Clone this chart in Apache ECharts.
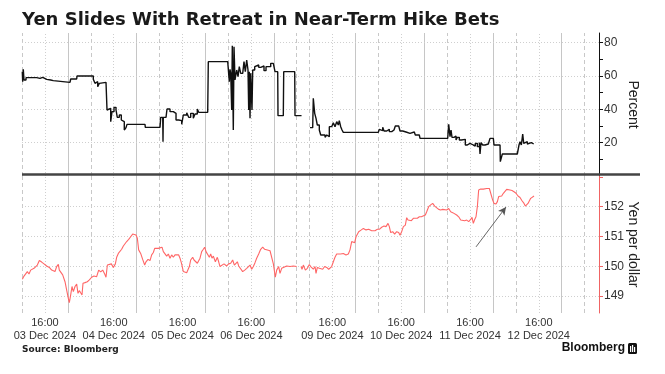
<!DOCTYPE html>
<html><head><meta charset="utf-8">
<script src="https://cdn.jsdelivr.net/npm/echarts@6/dist/echarts.min.js"></script>
<style>html,body{margin:0;padding:0;background:#fff}#c{width:665px;height:374px}</style>
</head><body><div id="c"></div>
<script>
// time axis: hours since 03 Dec 2024 00:00, weekend compressed
const pctTime = [8.10,8.24,8.45,8.70,9.40,11.38,13.13,14.28,15.22,16.62,18.01,18.92,19.27,24.74,24.99,27.08,27.18,31.96,32.87,33.46,34.06,34.40,34.96,35.21,37.30,37.65,38.24,38.94,39.39,40.09,40.79,41.24,41.94,42.64,43.33,43.68,44.28,44.62,50.90,51.01,56.13,56.38,57.08,57.18,57.28,58.23,58.58,59.62,60.77,61.72,62.66,63.70,64.26,65.45,66.14,66.84,67.75,68.34,69.14,69.63,72.77,72.98,79.75,80.31,80.55,80.80,81.14,81.35,81.70,81.95,82.29,82.89,83.34,83.79,84.28,84.98,85.43,85.89,86.37,86.83,87.07,87.28,87.53,87.77,88.22,88.47,89.17,89.86,90.56,91.26,91.71,92.41,93.11,94.05,94.75,95.65,96.25,97.19,97.29,99.14,99.28,103.12,103.22,103.81,105.5,108.45,109.39,109.60,110.09,110.55,111.00,111.70,112.19,113.69,114.28,114.84,115.19,116.02,116.58,117.17,117.77,118.33,118.67,119.16,119.62,120.07,132.28,132.63,133.11,133.81,134.27,135.21,136.12,136.95,137.75,138.21,139.39,139.85,140.79,141.94,142.39,143.33,144.83,145.18,146.57,146.82,156.48,156.83,157.29,157.64,157.98,158.68,159.38,159.83,160.53,161.23,161.92,162.62,163.32,164.26,165.41,166.11,166.81,167.51,167.75,168.10,168.69,169.49,170.09,170.65,171.24,172.39,172.63,174.73,174.83,175.42,175.53,180.76,181.01,181.35,181.70,182.16,182.64,182.99,183.55,184.25,184.94,185.64,186.48];
const pctValue = [62.6,56.6,64.0,57.6,59.0,59.0,58.6,59.2,58.0,57.6,57.2,57.6,56.2,56.2,58.2,58.2,60.0,60.0,58.0,55.6,56.6,53.6,55.6,56.2,56.0,39.6,40.6,32.6,38.6,41.2,39.6,35.2,36.6,33.6,32.6,27.6,29.0,31.0,31.0,29.2,29.2,35.2,35.2,20.6,35.2,35.2,40.2,38.6,37.6,33.6,33.2,31.0,36.6,38.0,35.2,37.6,34.6,37.2,40.2,38.2,38.2,68.6,68.6,56.6,64.0,61.6,39.6,78.2,27.6,77.6,57.6,63.6,59.6,65.6,61.6,62.6,68.6,62.6,69.6,63.6,39.6,62.6,34.6,61.6,39.6,63.6,65.6,66.6,65.2,64.6,66.0,63.2,65.6,65.6,67.6,67.2,62.6,62.6,36.2,36.2,62.6,62.6,36.2,36.2,null,29.0,29.6,46.6,37.6,34.6,30.6,27.6,24.6,23.2,24.6,23.6,29.6,28.6,32.0,29.6,32.6,30.6,33.2,29.6,27.6,26.2,26.2,28.0,27.2,29.2,27.0,28.0,26.6,27.6,26.6,30.0,30.0,27.0,26.4,26.6,25.6,26.4,26.0,24.6,24.6,22.6,22.6,31.0,23.6,27.6,23.2,24.0,21.6,23.2,21.6,20.6,22.0,18.6,19.6,18.6,18.0,19.6,17.6,20.0,13.2,20.0,18.6,19.2,19.2,18.6,22.6,22.6,18.6,18.6,8.6,8.6,13.2,13.2,12.0,18.6,20.6,18.6,25.2,19.6,20.6,19.2,20.0,19.2,19.2];

const fxTime = [8.12,8.70,9.28,9.86,10.44,11.02,11.60,12.19,12.77,13.35,14.05,14.86,15.67,16.60,17.53,18.35,18.93,19.51,20.09,20.67,21.02,21.60,22.19,23.00,23.58,24.16,24.51,24.98,25.44,25.91,26.49,27.07,27.53,28.00,28.46,28.93,29.28,29.98,30.79,31.49,32.30,33.11,34.04,34.74,35.44,36.14,36.84,37.30,37.77,38.46,39.16,39.86,40.56,41.02,41.60,42.18,42.76,43.35,43.93,44.51,45.21,45.90,46.60,47.18,47.76,48.23,48.69,49.39,50.09,50.79,51.25,51.95,52.65,53.23,53.81,54.28,54.97,55.55,56.14,56.83,57.30,57.88,58.46,59.04,59.62,60.20,60.79,61.37,61.95,62.65,63.11,63.69,64.27,64.86,65.44,66.02,66.37,66.83,67.53,68.00,68.69,69.16,69.74,70.09,70.67,71.25,71.72,72.18,72.65,73.34,73.81,74.27,74.74,75.44,76.13,76.60,77.06,77.64,78.46,79.39,80.09,80.79,81.48,82.07,82.65,83.11,83.58,84.27,84.97,85.67,86.37,87.06,87.53,88.11,88.69,89.27,89.85,90.55,91.25,91.95,92.65,93.34,94.51,95.20,95.67,96.36,96.83,97.53,97.99,98.57,99.16,100.32,101.48,102.64,103.81,104.5,105.32,105.67,106.13,106.83,107.53,108.22,108.69,109.16,109.62,110.20,110.55,111.01,111.71,112.18,112.88,113.57,114.27,114.97,115.43,116.01,116.59,117.17,117.75,118.33,119.15,120.08,121.01,121.82,122.40,122.99,123.57,124.03,124.50,124.96,125.43,125.89,126.36,127.06,127.99,128.92,129.96,131.12,131.94,132.64,133.45,134.26,134.96,135.66,136.12,136.59,137.29,137.98,138.68,139.38,139.84,140.43,141.01,141.71,142.17,142.64,143.10,143.80,144.50,145.19,145.89,146.59,147.29,147.98,148.68,149.15,149.84,150.54,151.24,151.94,152.63,153.33,154.03,154.73,155.42,156.12,156.82,157.52,158.22,158.91,159.61,160.31,161.01,161.70,162.40,163.10,163.80,164.49,164.96,165.42,165.89,166.35,166.82,167.28,167.98,168.91,170.08,171.01,171.70,172.17,172.63,173.33,173.80,174.26,174.73,175.31,175.89,176.47,177.05,177.63,178.21,178.91,179.61,180.31,181.00,181.70,182.40,183.10,183.56,184.03,184.49,184.96,185.42,185.89,186.59];
const fxValue = [149.56,149.67,149.63,149.82,149.74,149.87,149.81,149.93,149.90,150.04,150.19,150.14,150.08,150.01,149.96,149.87,149.93,149.82,149.99,150.06,149.87,149.85,149.71,149.48,149.20,148.92,148.78,149.04,149.32,149.15,149.32,149.40,149.09,149.18,149.11,149.04,149.43,149.45,149.48,149.54,149.63,149.67,149.65,149.87,149.81,149.87,149.74,149.63,150.04,149.99,150.08,149.96,150.08,150.30,150.43,150.38,150.57,150.68,150.64,150.83,150.90,150.99,151.08,151.13,151.05,150.94,150.55,150.43,150.23,150.04,150.15,150.23,150.19,150.38,150.46,150.60,150.55,150.60,150.57,150.64,150.49,150.55,150.34,150.41,150.27,150.38,150.30,150.38,150.34,150.38,150.27,150.08,149.82,149.87,149.78,149.76,149.99,150.21,150.30,150.21,150.23,150.10,150.15,150.27,150.49,150.57,150.64,150.49,150.46,150.30,150.41,150.27,150.34,150.15,150.30,150.15,149.99,150.04,150.08,150.01,150.08,150.10,150.21,150.04,149.99,150.15,150.01,149.99,149.82,149.87,149.93,149.96,150.04,149.90,149.99,150.12,150.27,150.41,150.57,150.64,150.57,150.52,150.52,150.49,150.08,149.63,149.87,149.99,149.76,149.93,149.99,150.01,149.99,150.01,149.99,null,149.99,149.90,150.04,149.87,149.93,150.06,149.99,150.01,149.90,149.99,149.76,149.96,149.93,149.99,149.90,149.99,149.96,149.90,149.93,149.99,150.15,150.30,150.41,150.43,150.41,150.43,150.38,150.41,150.55,150.83,150.88,150.79,150.99,151.05,151.16,151.13,151.22,151.27,151.22,151.24,151.19,151.19,151.24,151.24,151.31,151.35,151.33,151.44,151.33,151.13,151.16,151.08,151.16,151.13,151.04,151.16,151.33,151.38,151.63,151.55,151.57,151.53,151.61,151.55,151.61,151.66,151.66,151.66,151.72,151.83,152.00,152.06,152.11,152.02,151.98,151.91,151.89,151.91,151.87,151.89,151.94,151.83,151.80,151.78,151.72,151.66,151.55,151.50,151.53,151.55,151.50,151.57,151.64,151.44,151.57,151.66,152.00,152.56,152.59,152.59,152.61,152.61,152.58,152.22,152.11,152.09,152.17,152.34,152.39,152.36,152.45,152.42,152.58,152.61,152.56,152.54,152.50,152.45,152.36,152.31,152.20,152.11,152.02,151.98,152.11,152.17,152.28,152.34,152.36];

const labelHours = [16, 40, 64, 88, 116.25, 140.25, 164.25, 188.25];
const labelTime = '16:00';
const labelDates = ['03 Dec 2024','04 Dec 2024','05 Dec 2024','06 Dec 2024','09 Dec 2024','10 Dec 2024','11 Dec 2024','12 Dec 2024'];
const midnightHours = [24, 48, 72, 96, 124.25, 148.25, 172.25, 196.25];
const morningHours = [8, 32, 56, 80, 103.6, 108.25, 132.25, 156.25, 180.25, 204.25];
const pctTicks = [10, 20, 30, 40, 50, 60, 70, 80];
const pctLabels = [20, 40, 60, 80];
const fxTicks = [149, 150, 151, 152, 153];
const fxLabels = [149, 150, 151, 152];
const arrowFrom = [166.36, 150.65];
const arrowTo = [176.82, 151.99];

const X_MIN = 8, X_MAX = 209.25;
const FONT = 'Liberation Sans';

function zip(a, b) { return a.map((t, i) => [t, b[i] === null ? '-' : b[i]]); }

function gridMarks(hLines) {
  const d = [];
  midnightHours.forEach(v => d.push({ xAxis: v, lineStyle: { type: 'solid', color: '#c6c6c6', width: 1 } }));
  morningHours.forEach(v => d.push({ xAxis: v, lineStyle: { type: [4, 3], color: '#c8c8c8', width: 1 } }));
  labelHours.forEach(v => d.push({ xAxis: v, lineStyle: { type: [1, 2], color: '#cfcfcf', width: 1 } }));
  hLines.forEach(v => d.push({ yAxis: v, lineStyle: { type: [1, 2], color: '#cfcfcf', width: 1 } }));
  return {
    silent: true, symbol: ['none', 'none'], animation: false,
    label: { show: false }, emphasis: { disabled: true }, data: d
  };
}

const chart = echarts.init(document.getElementById('c'), null, { renderer: 'canvas' });
chart.setOption({
  animation: false,
  backgroundColor: '#fff',
  title: {
    text: 'Yen Slides With Retreat in Near-Term Hike Bets',
    left: 22, top: 11, padding: 0,
    textStyle: { fontFamily: 'DejaVu Sans', fontWeight: 'bold', fontSize: 18, color: '#1a1a1a' }
  },
  grid: [
    { left: 22, right: 66, top: 33, height: 143 },
    { left: 22, right: 66, top: 176, height: 137 }
  ],
  xAxis: [
    { type: 'value', gridIndex: 0, min: X_MIN, max: X_MAX, axisLine: { show: false }, axisTick: { show: false }, axisLabel: { show: false }, splitLine: { show: false } },
    { type: 'value', gridIndex: 1, min: X_MIN, max: X_MAX, axisLine: { show: false }, axisTick: { show: false }, splitLine: { show: false },
      axisLabel: {
        customValues: labelHours, margin: 4, fontFamily: FONT, fontSize: 11, color: '#333', lineHeight: 12.5,
        formatter: function (v) {
          let i = 0, best = 1e9;
          labelHours.forEach((h, k) => { if (Math.abs(h - v) < best) { best = Math.abs(h - v); i = k; } });
          return labelTime + '\n' + labelDates[i];
        }
      }
    }
  ],
  yAxis: [
    { type: 'value', gridIndex: 0, position: 'right', min: 0, max: 85.8,
      axisLine: { show: true, lineStyle: { color: '#111', width: 1 } },
      axisTick: { show: true, customValues: pctTicks, length: 4, lineStyle: { color: '#111' } },
      axisLabel: { customValues: pctLabels, margin: 5, fontFamily: FONT, fontSize: 12, color: '#333' },
      splitLine: { show: false },
      name: 'Percent', nameLocation: 'middle', nameRotate: -90, nameGap: 27, nameMoveOverlap: false,
      nameTextStyle: { fontFamily: FONT, fontSize: 14, color: '#222' }
    },
    { type: 'value', gridIndex: 1, position: 'right', min: 148.43, max: 153.03,
      axisLine: { show: true, lineStyle: { color: '#f06464', width: 1 } },
      axisTick: { show: true, customValues: fxTicks, length: 4, lineStyle: { color: '#f06464' } },
      axisLabel: { customValues: fxLabels, margin: 5, fontFamily: FONT, fontSize: 12, color: '#333' },
      splitLine: { show: false },
      name: 'Yen per dollar', nameLocation: 'middle', nameRotate: -90, nameGap: 27, nameMoveOverlap: false,
      nameTextStyle: { fontFamily: FONT, fontSize: 14, color: '#222' }
    }
  ],
  series: [
    { type: 'line', xAxisIndex: 0, yAxisIndex: 0, data: [], z: 1, silent: true, markLine: gridMarks([20, 40, 60, 80]) },
    { type: 'line', xAxisIndex: 1, yAxisIndex: 1, data: [], z: 1, silent: true, markLine: gridMarks([149, 150, 151, 152]) },
    { type: 'line', name: 'Percent', xAxisIndex: 0, yAxisIndex: 0, data: zip(pctTime, pctValue),
      step: 'end', showSymbol: false, symbol: 'none', connectNulls: false, z: 5,
      lineStyle: { color: '#111', width: 1.4 } },
    { type: 'line', name: 'Yen', xAxisIndex: 1, yAxisIndex: 1, data: zip(fxTime, fxValue),
      showSymbol: false, symbol: 'none', connectNulls: false, z: 5,
      lineStyle: { color: '#ff6666', width: 1.1 },
      markLine: {
        silent: true, animation: false, symbol: ['none', 'arrow'], symbolSize: [6, 8],
        label: { show: false }, lineStyle: { color: '#555', width: 0.9, type: 'solid' },
        data: [[{ coord: arrowFrom }, { coord: arrowTo }]]
      }
    }
  ],
  graphic: [
    { type: 'line', z: 20, shape: { x1: 22, y1: 174.5, x2: 640, y2: 174.5 }, style: { stroke: '#444', lineWidth: 2.5 } },
    { type: 'text', left: 22, top: 345, style: { text: 'Source: Bloomberg', font: 'bold 9px "DejaVu Sans"', fill: '#222' } },
    { type: 'text', x: 625, y: 342, style: { text: 'Bloomberg', align: 'right', verticalAlign: 'top', font: 'bold 12px "Liberation Sans"', fill: '#111' } },
    { type: 'group', left: 628, top: 343, children: [
      { type: 'rect', shape: { x: 0, y: 0, width: 9, height: 11, r: 1.5 }, style: { fill: '#111' } },
      { type: 'rect', shape: { x: 2, y: 3, width: 1.2, height: 6 }, style: { fill: '#fff' } },
      { type: 'rect', shape: { x: 4, y: 2, width: 1.2, height: 7 }, style: { fill: '#fff' } },
      { type: 'rect', shape: { x: 6, y: 4, width: 1.2, height: 5 }, style: { fill: '#fff' } }
    ] }
  ]
});
</script>
</body></html>
